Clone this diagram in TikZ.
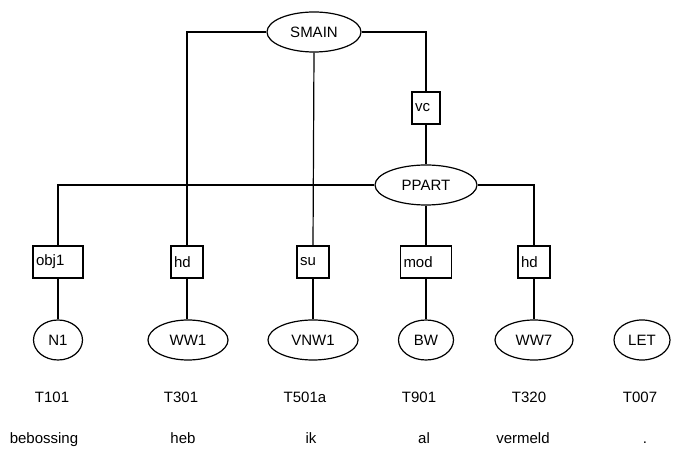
\documentclass[tikz,border=0pt]{standalone}
\usepackage{fontspec}
\setmainfont{Liberation Sans}
\usetikzlibrary{shapes.geometric}
\tikzset{
  cat/.style={
    ellipse, draw=black, line width=1.2pt,
    minimum width=#1, minimum height=40pt, inner sep=0pt,
    font=\fontsize{15}{17}\selectfont
  },
  rel/.style={
    rectangle, draw=black, line width=1.2pt, fill=white,
    text width=#1, minimum height=32pt, inner sep=3pt,
    align=left, font=\fontsize{15}{17}\selectfont
  },
  tag/.style={font=\fontsize{15}{17}\selectfont, inner sep=0pt},
  edge/.style={line width=1.2pt, draw=black}
}

\begin{document}
\begin{tikzpicture}[x=1pt, y=-1pt]
  \useasboundingbox (0,0) rectangle (673,449);
  % phrase nodes
  \node[cat=94pt] (smain) at (314,32) {SMAIN};
  \node[cat=102pt] (ppart) at (426,185) {PPART};
  % relations
  \node[rel=22pt] (vc) at (426,108) {vc};
  \node[rel=44pt] (obj1) at (58,262) {obj1};
  \node[rel=26pt] (hdA) at (187,262) {hd};
  \node[rel=26pt] (su) at (313,262) {su};
  \node[rel=45pt] (mod) at (426,262) {mod};
  \node[rel=26pt] (hdB) at (534,262) {hd};
  % word categories
  \node[cat=49pt] (n1) at (58,340) {N1};
  \node[cat=80pt] (ww1) at (188,340) {WW1};
  \node[cat=90pt] (vnw1) at (313,340) {VNW1};
  \node[cat=55pt] (bw) at (426,340) {BW};
  \node[cat=78pt] (ww7) at (534,340) {WW7};
  \node[cat=56pt] (let) at (642,340) {LET};
  % tags
  \node[tag] (t1) at (52,397) {T101};
  \node[tag] (t2) at (181,397) {T301};
  \node[tag] (t3) at (305,397) {T501a};
  \node[tag] (t4) at (419,397) {T901};
  \node[tag] (t5) at (529,397) {T320};
  \node[tag] (t6) at (640,397) {T007};
  % words
  \node[tag, anchor=base] (w1) at (44,444) {bebossing};
  \node[tag, anchor=base] (w2) at (183,444) {heb};
  \node[tag, anchor=base] (w3) at (311,444) {ik};
  \node[tag, anchor=base] (w4) at (424,444) {al};
  \node[tag, anchor=base] (w5) at (523,444) {vermeld};
  \node[tag, anchor=base] (w6) at (645,444) {.};
  % edges
  \draw[edge] (smain.west) -| (hdA.north);
  \draw[edge] (smain.south) -- (su.north);
  \draw[edge] (smain.east) -| (vc.north);
  \draw[edge] (vc.south) -- (ppart.north);
  \draw[edge] (ppart.west) -| (obj1.north);
  \draw[edge] (ppart.south) -- (mod.north);
  \draw[edge] (ppart.east) -| (hdB.north);
  \draw[edge] (obj1.south) -- (n1.north);
  \draw[edge] (hdA.south) -- (ww1.north -| hdA.south);
  \draw[edge] (su.south) -- (vnw1.north);
  \draw[edge] (mod.south) -- (bw.north);
  \draw[edge] (hdB.south) -- (ww7.north);
\end{tikzpicture}
\end{document}
